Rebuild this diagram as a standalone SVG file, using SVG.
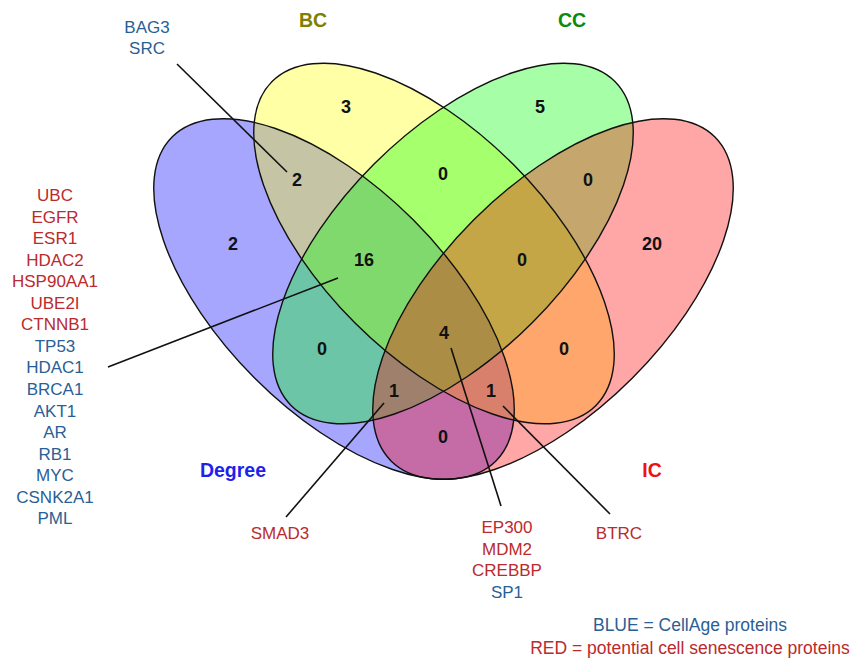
<svg xmlns="http://www.w3.org/2000/svg" xmlns:xlink="http://www.w3.org/1999/xlink" width="857" height="664" viewBox="0 0 857 664">
<style>
text{font-family:"Liberation Sans",Arial,Helvetica,sans-serif;text-anchor:middle}
.fill{fill-opacity:0.35;stroke:none}
.outline{fill:none;stroke:#111;stroke-width:1.4}
.num{font-size:18px;font-weight:bold;fill:#111}
.cat{font-size:19.5px;font-weight:bold}
.gene{font-size:17px}
.b{fill:#2a5f95}
.r{fill:#bb2a2c}
.leg{font-size:17.5px}
.conn line{stroke:#111;stroke-width:1.6}
</style>
<defs>
<ellipse id="e-degree" cx="0" cy="0" rx="229" ry="112" transform="translate(334,299) rotate(45)"/>
<ellipse id="e-bc" cx="0" cy="0" rx="229" ry="112" transform="translate(434,243.5) rotate(45)"/>
<ellipse id="e-cc" cx="0" cy="0" rx="229" ry="112" transform="translate(453,243.5) rotate(-45)"/>
<ellipse id="e-ic" cx="0" cy="0" rx="229" ry="112" transform="translate(553,299) rotate(-45)"/>
</defs>
<rect width="857" height="664" fill="#fff"/>
<g id="set-degree"><use xlink:href="#e-degree" class="fill" fill="#0000ff"/><text class="cat" x="233" y="477" fill="#1f1fee">Degree</text></g>
<g id="set-bc"><use xlink:href="#e-bc" class="fill" fill="#ffff00"/><text class="cat" x="313" y="27" fill="#7f7f00">BC</text></g>
<g id="set-cc"><use xlink:href="#e-cc" class="fill" fill="#00ff00"/><text class="cat" x="572" y="27" fill="#0c8a0c">CC</text></g>
<g id="set-ic"><use xlink:href="#e-ic" class="fill" fill="#ff0000"/><text class="cat" x="652" y="477" fill="#ee1111">IC</text></g>
<g id="outlines">
<use xlink:href="#e-degree" class="outline"/>
<use xlink:href="#e-bc" class="outline"/>
<use xlink:href="#e-cc" class="outline"/>
<use xlink:href="#e-ic" class="outline"/>
</g>
<g id="region-counts" class="num">
<text class="num" x="346" y="113">3</text>
<text class="num" x="540" y="113">5</text>
<text class="num" x="297" y="186">2</text>
<text class="num" x="443" y="180">0</text>
<text class="num" x="588" y="186">0</text>
<text class="num" x="233" y="250">2</text>
<text class="num" x="364" y="266">16</text>
<text class="num" x="522" y="266">0</text>
<text class="num" x="652" y="250">20</text>
<text class="num" x="444" y="339">4</text>
<text class="num" x="322" y="355">0</text>
<text class="num" x="564" y="355">0</text>
<text class="num" x="394" y="397">1</text>
<text class="num" x="491" y="397">1</text>
<text class="num" x="443" y="443">0</text>
</g>
<g id="conn" class="conn">
<line x1="177" y1="64" x2="287" y2="172"/>
<line x1="108" y1="367" x2="338" y2="278"/>
<line x1="286" y1="517" x2="384" y2="403"/>
<line x1="451" y1="348" x2="501" y2="506"/>
<line x1="503" y1="406" x2="610" y2="514"/>
</g>
<g id="genes-degree-bc" class="gene">
<text class="gene b" x="147" y="33">BAG3</text>
<text class="gene b" x="147" y="54">SRC</text>
</g>
<g id="genes-degree-bc-cc" class="gene">
<text class="gene r" x="55" y="201">UBC</text>
<text class="gene r" x="55" y="222.5">EGFR</text>
<text class="gene r" x="55" y="244">ESR1</text>
<text class="gene r" x="55" y="265.6">HDAC2</text>
<text class="gene r" x="55" y="287.2">HSP90AA1</text>
<text class="gene r" x="55" y="308.7">UBE2I</text>
<text class="gene r" x="55" y="330.3">CTNNB1</text>
<text class="gene b" x="55" y="351.8">TP53</text>
<text class="gene b" x="55" y="373.4">HDAC1</text>
<text class="gene b" x="55" y="395">BRCA1</text>
<text class="gene b" x="55" y="416.5">AKT1</text>
<text class="gene b" x="55" y="438">AR</text>
<text class="gene b" x="55" y="459.6">RB1</text>
<text class="gene b" x="55" y="481.2">MYC</text>
<text class="gene b" x="55" y="502.7">CSNK2A1</text>
<text class="gene b" x="55" y="524.3">PML</text>
</g>
<g id="genes-degree-bc-ic"><text class="gene r" x="280" y="539">SMAD3</text></g>
<g id="genes-all">
<text class="gene r" x="507" y="533">EP300</text>
<text class="gene r" x="507" y="554.5">MDM2</text>
<text class="gene r" x="507" y="576">CREBBP</text>
<text class="gene b" x="507" y="597.5">SP1</text>
</g>
<g id="genes-degree-cc-ic"><text class="gene r" x="619" y="539">BTRC</text></g>
<g id="legend">
<text class="leg b" x="690" y="631">BLUE = CellAge proteins</text>
<text class="leg r" x="690" y="654">RED = potential cell senescence proteins</text>
</g>
</svg>
